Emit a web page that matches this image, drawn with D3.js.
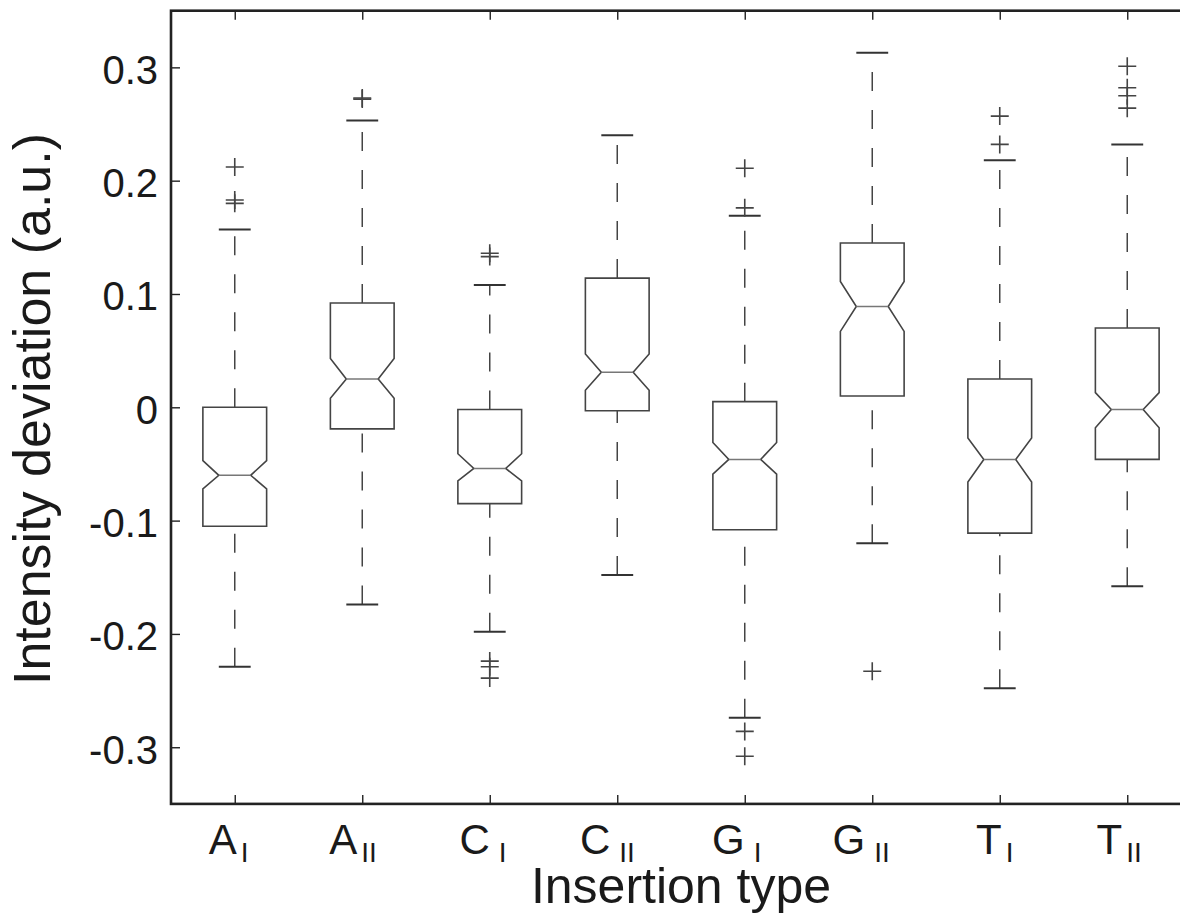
<!DOCTYPE html>
<html>
<head>
<meta charset="utf-8">
<script src="https://cdn.jsdelivr.net/npm/d3@7"></script>
<style>
  body { margin: 0; background: #fff; }
  svg { display: block; font-family: "Liberation Sans", Arial, Helvetica, sans-serif; }
</style>
</head>
<body>
<svg id="chart" width="1180" height="913"></svg>
<script>
// categories (letter + subscript)
const bases = ['A', 'A', 'C', 'C', 'G', 'G', 'T', 'T'];
const subs = ['I', 'II', 'I', 'II', 'I', 'II', 'I', 'II'];

// box statistics
const q1 = [-0.105, -0.019, -0.085, -0.003, -0.108, 0.010, -0.111, -0.046];
const median = [-0.060, 0.025, -0.054, 0.031, -0.046, 0.089, -0.046, -0.002];
const q3 = [0.000, 0.092, -0.002, 0.114, 0.005, 0.145, 0.025, 0.070];
const notchLo = [-0.072, 0.008, -0.065, 0.015, -0.059, 0.067, -0.066, -0.018];
const notchHi = [-0.047, 0.043, -0.041, 0.047, -0.031, 0.111, -0.027, 0.013];
const whiskerLo = [-0.229, -0.174, -0.198, -0.148, -0.274, -0.120, -0.248, -0.158];
const whiskerHi = [0.157, 0.253, 0.108, 0.240, 0.169, 0.313, 0.218, 0.232];
const outliers = [
  [0.212, 0.183, 0.180],
  [0.272, 0.273],
  [0.136, 0.133, -0.224, -0.229, -0.239],
  [],
  [0.211, 0.176, -0.286, -0.308],
  [-0.233],
  [0.257, 0.232],
  [0.301, 0.282, 0.275, 0.264]
];
const yTicks = [-0.3, -0.2, -0.1, 0, 0.1, 0.2, 0.3];

const data = bases.map((b, i) => ({
  i: i + 1, base: b, sub: subs[i],
  q1: q1[i], med: median[i], q3: q3[i],
  nlo: notchLo[i], nhi: notchHi[i],
  wlo: whiskerLo[i], whi: whiskerHi[i],
  out: outliers[i]
}));

const pLeft = 171, pRight = 1191, pTop = 10.7, pBottom = 803.9;
const x = d3.scaleLinear().domain([0.5, 8.5]).range([pLeft, pRight]);
const y = d3.scaleLinear().domain([-0.35, 0.35]).range([pBottom, pTop]);
const bw = 0.25, nw = 0.125;   // half widths in x units

const svg = d3.select('#chart');
const ink = '#444';

// whiskers (dashed, drawn from low value to high value)
const g = svg.append('g');
const boxes = g.selectAll('g.box').data(data).enter().append('g').attr('class', 'box');

boxes.append('line')
     .attr('x1', d => x(d.i)).attr('x2', d => x(d.i))
     .attr('y1', d => y(d.q3)).attr('y2', d => y(d.whi))
     .attr('stroke', ink).attr('stroke-width', 1.5).attr('stroke-dasharray', '19,19');
boxes.append('line')
     .attr('x1', d => x(d.i)).attr('x2', d => x(d.i))
     .attr('y1', d => y(d.wlo)).attr('y2', d => y(d.q1))
     .attr('stroke', ink).attr('stroke-width', 1.5).attr('stroke-dasharray', '19,19');

// caps
['whi', 'wlo'].forEach(k => {
  boxes.append('line')
       .attr('x1', d => x(d.i - nw)).attr('x2', d => x(d.i + nw))
       .attr('y1', d => y(d[k])).attr('y2', d => y(d[k]))
       .attr('stroke', '#333').attr('stroke-width', 2);
});

// notched box
boxes.append('path')
     .attr('d', d => {
       const p = d3.path();
       p.moveTo(x(d.i - bw), y(d.q1));
       p.lineTo(x(d.i - bw), y(d.nlo));
       p.lineTo(x(d.i - nw), y(d.med));
       p.lineTo(x(d.i - bw), y(d.nhi));
       p.lineTo(x(d.i - bw), y(d.q3));
       p.lineTo(x(d.i + bw), y(d.q3));
       p.lineTo(x(d.i + bw), y(d.nhi));
       p.lineTo(x(d.i + nw), y(d.med));
       p.lineTo(x(d.i + bw), y(d.nlo));
       p.lineTo(x(d.i + bw), y(d.q1));
       p.closePath();
       return p.toString();
     })
     .attr('fill', 'none').attr('stroke', ink).attr('stroke-width', 1.6)
     .attr('stroke-linejoin', 'miter');

// median
boxes.append('line')
     .attr('x1', d => x(d.i - nw)).attr('x2', d => x(d.i + nw))
     .attr('y1', d => y(d.med)).attr('y2', d => y(d.med))
     .attr('stroke', '#777').attr('stroke-width', 1.5);

// outliers as '+'
const pts = data.flatMap(d => d.out.map(v => ({i: d.i, v})));
const m = 9;
g.selectAll('path.out').data(pts).enter().append('path')
 .attr('class', 'out')
 .attr('d', d => `M${x(d.i) - m},${y(d.v)}H${x(d.i) + m}M${x(d.i)},${y(d.v) - m}V${y(d.v) + m}`)
 .attr('stroke', ink).attr('stroke-width', 1.6).attr('fill', 'none');

// axes
const yAxis = d3.axisLeft(y).tickValues(yTicks).tickSize(-9).tickSizeOuter(0).tickPadding(13)
                .tickFormat(d => d === 0 ? '0' : d.toFixed(1));
const ya = svg.append('g').attr('transform', `translate(${pLeft},0)`).call(yAxis);
ya.selectAll('text').attr('font-size', 40).attr('fill', '#1a1a1a').attr('dy', '0.4em')
  .attr('font-family', '"Liberation Sans", Arial, sans-serif');

const xTicks = data.map(d => d.i);
svg.append('g').attr('transform', `translate(0,${pBottom})`)
   .call(d3.axisBottom(x).tickValues(xTicks).tickSize(-9).tickSizeOuter(0).tickFormat(''));
svg.append('g').attr('transform', `translate(0,${pTop})`)
   .call(d3.axisTop(x).tickValues(xTicks).tickSize(-9).tickSizeOuter(0).tickFormat(''));

svg.selectAll('.tick line').attr('stroke', '#222').attr('stroke-width', 1.4);
svg.selectAll('.domain').remove();

// frame
svg.append('rect')
   .attr('x', pLeft).attr('y', pTop)
   .attr('width', pRight - pLeft).attr('height', pBottom - pTop)
   .attr('fill', 'none').attr('stroke', '#222').attr('stroke-width', 2.6);

// category labels: letter ends near the tick, subscript after it
const round = d => d.base === 'C' || d.base === 'G';
const baseEnd = d => x(d.i) + (d.sub === 'I' ? (round(d) ? 0 : 2) : (round(d) ? -7 : -5));
const subGap = d => round(d) ? 9 : 4;

const labs = svg.append('g');
labs.selectAll('text.base').data(data).enter().append('text')
    .attr('class', 'base')
    .attr('x', baseEnd).attr('y', 854)
    .attr('text-anchor', 'end').attr('font-size', 42).attr('fill', '#1a1a1a')
    .text(d => d.base);
labs.selectAll('text.sub').data(data).enter().append('text')
    .attr('class', 'sub')
    .attr('x', d => baseEnd(d) + subGap(d)).attr('y', 862)
    .attr('text-anchor', 'start').attr('font-size', 28).attr('fill', '#1a1a1a')
    .text(d => d.sub);

// axis titles
svg.append('text')
   .attr('x', (pLeft + pRight) / 2).attr('y', 903)
   .attr('text-anchor', 'middle').attr('font-size', 50).attr('fill', '#1a1a1a')
   .text('Insertion type');
svg.append('text')
   .attr('transform', 'translate(50,409) rotate(-90)')
   .attr('text-anchor', 'middle').attr('font-size', 52).attr('fill', '#1a1a1a')
   .text('Intensity deviation (a.u.)');
</script>
</body>
</html>
